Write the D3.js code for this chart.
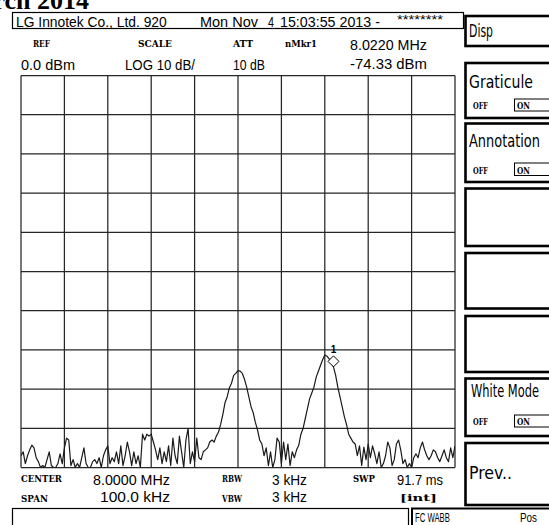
<!DOCTYPE html>
<html>
<head>
<meta charset="utf-8">
<script src="https://cdnjs.cloudflare.com/ajax/libs/d3/7.8.5/d3.min.js"></script>
<style>
  html, body { margin: 0; padding: 0; background: #fff; }
  svg { display: block; }
</style>
</head>
<body>
<svg id="screen" width="549" height="525"></svg>
<script>
// ---- Sweep settings ----
const centerMHz = 8.0;
const spanMHz = 0.1;
const refLevelDbm = 0;
const dbPerDiv = 10;
const divisions = 10;
const rbwKHz = 3;
const vbwKHz = 3;
const sweepMs = 91.7;
const attDb = 10;

// ---- Trace: 201 sweep points, 7.950 .. 8.050 MHz (dBm) ----
const traceLevels = [
  -97, -96, -99, -97, -95.5, -94.3, -95, -97.5, -98.5, -100,
  -99.5, -100, -98, -96, -99.5, -100, -100, -99, -96.5, -99,
  -95, -92.5, -93, -99.5, -98, -100, -99, -100, -97.5, -95,
  -99, -100, -100, -98.5, -98, -99, -97.5, -100, -97, -95.5,
  -94.5, -99, -97.5, -98.5, -96, -99, -94.5, -99.5, -97, -93.5,
  -96, -99.5, -96, -99, -97, -100, -91.5, -93, -91.5, -92,
  -91.5, -93.5, -95.5, -98, -95, -99, -96, -98.5, -94.5, -99.5,
  -92.5, -97, -99, -92, -96, -100, -93, -90, -99, -96,
  -98.5, -92.5, -97.5, -98, -96, -95.5, -95, -93.5, -93, -93.5,
  -92, -91, -89, -86.5, -83.5, -82, -79.7, -78.5, -76.5, -76,
  -75.3, -75.4, -76, -77.5, -79.5, -82, -84.5, -86, -88.5, -90.4,
  -93, -94, -97, -95, -99.5, -96, -100, -98, -92.5, -93.5,
  -99, -93.5, -98, -94, -99.5, -96, -97.5, -95.5, -94.3, -91.5,
  -90, -87.5, -85, -82.5, -81, -79.5, -77, -75.5, -74, -72.5,
  -71.3, -71.6, -72.3, -73.2, -74.33, -76.5, -79.5, -82, -84.5, -87,
  -89, -91.5, -92.5, -93.5, -94, -97, -94.5, -99.5, -94.8, -98,
  -94, -97.5, -94.5, -96.5, -99, -96, -100, -99, -97, -93.5,
  -95, -99.5, -98, -94, -93, -95.5, -99, -98, -100, -99,
  -100, -97.5, -96.5, -97.5, -95, -93.5, -95.5, -97, -98, -97,
  -95.5, -96, -97.5, -98.5, -97, -95.5, -97.5, -98.5, -95, -97.5,
  -94.5
];

// ---- Marker 1 ----
const markerName = "nMkr1";
const markerFreqMHz = 8.0220;
const markerLevelDbm = -74.33;

// ---- Annotation strings ----
const titleText = "March 2014";
const instrumentText = "LG Innotek Co., Ltd. 920";
const dateParts = ["Mon Nov", "4", "15:03:55 2013 -"];
const maskText = "********";
const menuLabels = ["Disp", "Graticule", "Annotation", "", "", "", "White Mode", "Prev.."];
const toggleLabels = ["OFF", "ON"];
const statusLabels = ["FC WABB", "Pos"];

// ---- Drawing ----
const svg = d3.select("#screen");
const plot = { left: 21, right: 455, top: 75.5, bottom: 467.5 };

const startMHz = centerMHz - spanMHz / 2;
const stopMHz = centerMHz + spanMHz / 2;
const x = d3.scaleLinear().domain([startMHz, stopMHz]).range([plot.left, plot.right]);
const y = d3.scaleLinear()
  .domain([refLevelDbm - dbPerDiv * divisions, refLevelDbm])
  .range([plot.bottom, plot.top]);

const SANS = "'Liberation Sans Narrow', 'Liberation Sans', Arial, sans-serif";
const LABEL = "'DejaVu Serif', 'Liberation Serif', serif";
const MENU = "'DejaVu Sans Condensed', 'Liberation Sans Narrow', 'Liberation Sans', sans-serif";

// Places a text; when a width is given the glyphs are squeezed horizontally to fit it.
function text(s, px, py, width, size, family, weight, anchor) {
  const t = svg.append("text")
    .attr("x", px).attr("y", py)
    .attr("font-size", size)
    .attr("font-family", family)
    .attr("font-weight", weight || "normal")
    .attr("fill", "#000")
    .attr("text-anchor", anchor || "start")
    .text(s);
  if (width) {
    const natural = t.node().getComputedTextLength();
    const sx = natural > 0 ? width / natural : 1;
    t.attr("x", 0).attr("y", 0)
      .attr("transform", `translate(${px},${py}) scale(${sx},1)`);
  }
  return t;
}

// Page title (partly above the screen edge)
text(titleText, 89, 9, null, 26, "'Liberation Serif', 'DejaVu Serif', serif", "bold", "end");

// Header box
svg.append("rect").attr("x", 12.5).attr("y", 12.5).attr("width", 451).attr("height", 16)
  .attr("fill", "#fff").attr("stroke", "#000").attr("stroke-width", 1.2);
text(instrumentText, 16, 26.5, 151, 14, SANS);
text(dateParts[0], 200, 26.5, 58, 14, SANS);
text(dateParts[1], 268, 26.5, 6, 14, SANS);
text(dateParts[2], 280, 26.5, 100, 14, SANS);
text(maskText, 397, 24, 46, 13, SANS);

// Setting labels above the graticule
text("REF", 33, 46.5, 17, 10, LABEL, "bold");
text("SCALE", 138, 46.5, 34, 10, LABEL, "bold");
text("ATT", 233, 46.5, 20, 10, LABEL, "bold");
text(markerName, 285, 46.5, 32, 10, LABEL, "bold");
text(refLevelDbm.toFixed(1) + " dBm", 21, 69.5, 54, 14, SANS);
text("LOG " + dbPerDiv + " dB/", 125, 69.5, 70, 14, SANS);
text(attDb + " dB", 233, 69.5, 32, 14, SANS);
text(markerFreqMHz.toFixed(4) + " MHz", 350, 50, 77, 14, SANS);
text(markerLevelDbm.toFixed(2) + " dBm", 350, 68.5, 77, 14, SANS);

// Graticule
const gridFreqs = d3.range(divisions + 1).map(i => startMHz + i * spanMHz / divisions);
const gridLevels = d3.range(divisions + 1).map(i => refLevelDbm - i * dbPerDiv);
const grid = svg.append("g").attr("stroke", "#262626").attr("stroke-width", 1.25);
grid.selectAll("line.v").data(gridFreqs).join("line").attr("class", "v")
  .attr("x1", d => x(d)).attr("x2", d => x(d))
  .attr("y1", plot.top).attr("y2", plot.bottom);
grid.selectAll("line.h").data(gridLevels).join("line").attr("class", "h")
  .attr("x1", plot.left).attr("x2", plot.right)
  .attr("y1", d => y(d)).attr("y2", d => y(d));

// Trace
svg.append("clipPath").attr("id", "plotClip").append("rect")
  .attr("x", plot.left).attr("y", plot.top)
  .attr("width", plot.right - plot.left).attr("height", plot.bottom - plot.top);
const stepMHz = spanMHz / (traceLevels.length - 1);
const trace = traceLevels.map((v, i) => ({ f: startMHz + i * stepMHz, v }));
svg.append("path").datum(trace)
  .attr("clip-path", "url(#plotClip)")
  .attr("fill", "none").attr("stroke", "#1a1a1a").attr("stroke-width", 1.2)
  .attr("stroke-linejoin", "round")
  .attr("d", d3.line().x(d => x(d.f)).y(d => y(d.v)));

// Marker diamond sits on the trace point
const mx = x(markerFreqMHz), my = y(markerLevelDbm);
const half = 5.5;
svg.append("path")
  .attr("d", `M${mx},${my} L${mx + half},${my - half} L${mx},${my - 2 * half} L${mx - half},${my - half} Z`)
  .attr("fill", "#fff").attr("stroke", "#000").attr("stroke-width", 1);
text("1", mx, my - 2 * half - 3, null, 10, SANS, "bold", "middle");

// Settings below the graticule
text("CENTER", 21, 481.5, 41, 10, LABEL, "bold");
text(centerMHz.toFixed(4) + " MHz", 93, 485, 77, 14, SANS);
text("RBW", 222, 481.5, 20, 10, LABEL, "bold");
text(rbwKHz + " kHz", 272, 485, 35, 14, SANS);
text("SWP", 353, 481.5, 22, 10, LABEL, "bold");
text(sweepMs.toFixed(1) + " ms", 397, 485, 46, 14, SANS);
text("SPAN", 21, 501.5, 27, 10, LABEL, "bold");
text((spanMHz * 1000).toFixed(1) + " kHz", 100, 501.5, 70, 14, SANS);
text("VBW", 222, 501.5, 20, 10, LABEL, "bold");
text(vbwKHz + " kHz", 272, 501.5, 35, 14, SANS);
text("[int]", 400, 501, 37, 10, LABEL, "bold");

// Status line boxes
svg.append("rect").attr("x", 12.5).attr("y", 508.5).attr("width", 396).attr("height", 30)
  .attr("fill", "none").attr("stroke", "#000").attr("stroke-width", 1.2);
svg.append("rect").attr("x", 412).attr("y", 508.5).attr("width", 160).attr("height", 30)
  .attr("fill", "none").attr("stroke", "#000").attr("stroke-width", 2);
text(statusLabels[0], 415, 521.5, 35, 12.5, SANS);
text(statusLabels[1], 520, 521.5, 17, 12.5, SANS);

// Soft-key menu
const menuBoxes = [[16, 46], [63, 118], [123.5, 182], [188.5, 246], [253, 308.5], [316, 372], [378.5, 436], [443, 505]];
const menuTitle = { "Disp": [469, 37, 24], "Graticule": [469, 88, 64], "Annotation": [469, 146.5, 71],
  "White Mode": [471, 397, 68], "Prev..": [469, 479, 43] };
const menuToggle = { "Graticule": [108.5, 99, 111], "Annotation": [173.5, 163, 175.5], "White Mode": [425, 415, 427] };
menuBoxes.forEach((b, i) => {
  svg.append("rect").attr("x", 465.5).attr("y", b[0]).attr("width", 120).attr("height", b[1] - b[0])
    .attr("fill", "#fff").attr("stroke", "#000").attr("stroke-width", 2.6);
  const label = menuLabels[i];
  if (label && menuTitle[label]) {
    const [tx, ty, tw] = menuTitle[label];
    text(label, tx, ty, tw, 17, MENU);
  }
  if (menuToggle[label]) {
    const [by, r0, r1] = menuToggle[label];
    svg.append("rect").attr("x", 514.5).attr("y", r0).attr("width", 60).attr("height", r1 - r0)
      .attr("fill", "none").attr("stroke", "#000").attr("stroke-width", 1);
    text(toggleLabels[0], 473, by, 15, 10, LABEL, "bold");
    text(toggleLabels[1], 517, by, 13, 10, LABEL, "bold");
  }
});
</script>
</body>
</html>
